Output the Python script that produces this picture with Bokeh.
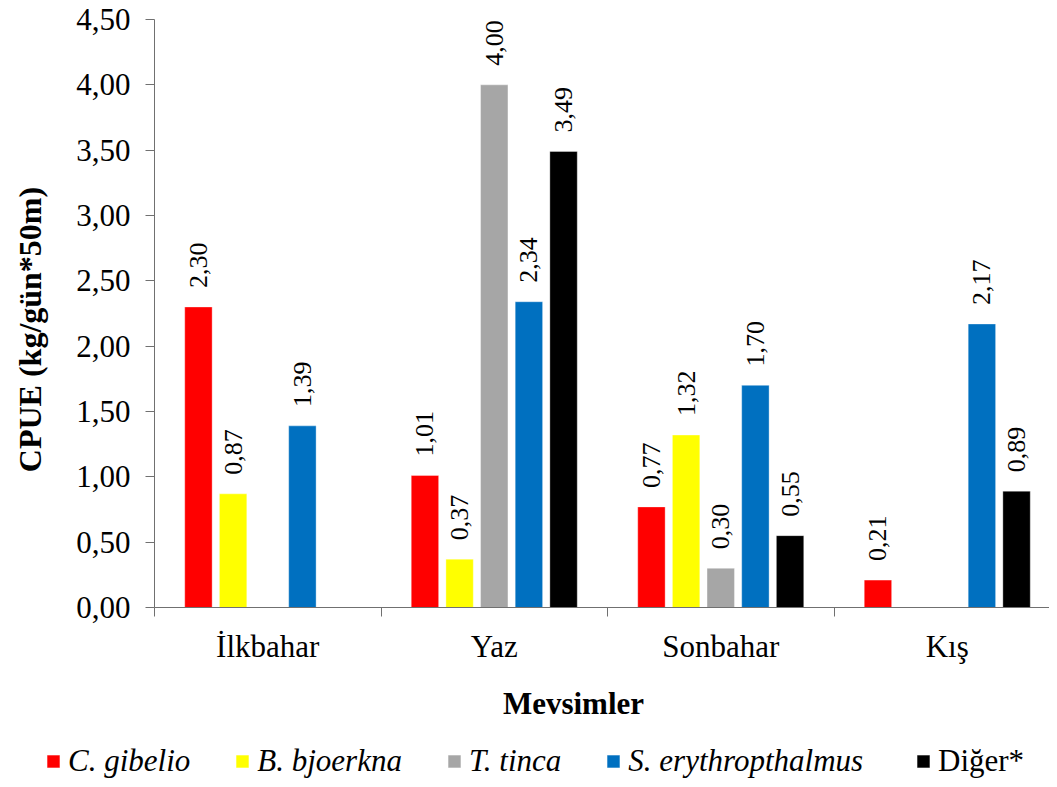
import math
from bokeh.plotting import figure
from bokeh.models import (ColumnDataSource, Range1d, FixedTicker, LabelSet, Label,
                          Legend, LegendItem)
from bokeh.core.properties import value
from bokeh.embed import file_html
from bokeh.resources import INLINE

# ---- data ----
categories = ["İlkbahar", "Yaz", "Sonbahar", "Kış"]
series_names = ["C. gibelio", "B. bjoerkna", "T. tinca", "S. erythropthalmus", "Diğer*"]
series_colors = ["#FF0000", "#FFFF00", "#A6A6A6", "#0070C0", "#000000"]
c_gibelio = [2.30, 1.01, 0.77, 0.21]
b_bjoerkna = [0.87, 0.37, 1.32, None]
t_tinca = [None, 4.00, 0.30, None]
s_erythropthalmus = [1.39, 2.34, 1.70, 2.17]
diger = [None, 3.49, 0.55, 0.89]
y_ticks = [0.0, 0.5, 1.0, 1.5, 2.0, 2.5, 3.0, 3.5, 4.0, 4.5]
y_tick_labels = ["0,00", "0,50", "1,00", "1,50", "2,00", "2,50", "3,00", "3,50", "4,00", "4,50"]
y_title = "CPUE (kg/gün*50m)"
x_title = "Mevsimler"

series_values = [c_gibelio, b_bjoerkna, t_tinca, s_erythropthalmus, diger]

FONT = "Liberation Serif"
offsets = [-0.306, -0.153, 0.0, 0.153, 0.306]
bar_w = 0.121

W, H = 1049, 779
# pixel geometry of plot area (axis origin at x=154, y=607; 4.5 at y=19)
PX_X = 226.5
PX_Y = (607 - 19) / 4.5
x_start = -154 / PX_X
x_end = (W - 154) / PX_X
y_end = 4.5 + 19 / PX_Y
y_start = -(H - 607) / PX_Y

p = figure(width=W, height=H, output_backend="svg", toolbar_location=None,
           x_range=Range1d(x_start, x_end), y_range=Range1d(y_start, y_end),
           min_border=0)
p.outline_line_color = None
p.xgrid.visible = False
p.ygrid.visible = False
p.background_fill_color = "white"
p.border_fill_color = "white"

renderers = []
for vals, col, off in zip(series_values, series_colors, offsets):
    xs, tops, txt = [], [], []
    for i, v in enumerate(vals):
        if v is None:
            continue
        xs.append(i + 0.5 + off)
        tops.append(v)
        txt.append(f"{v:.2f}".replace(".", ","))
    src = ColumnDataSource(dict(x=xs, top=tops, txt=txt))
    r = p.vbar(x="x", top="top", bottom=0, width=bar_w, source=src,
               fill_color=col, line_color="white", line_alpha=0.35, line_width=1)
    renderers.append(r)
    ls = LabelSet(x="x", y="top", text="txt", source=src, angle=math.pi / 2,
                  text_align="left", text_baseline="middle", y_offset=19,
                  text_font=value(FONT), text_font_size=value("26px"),
                  text_color="black")
    p.add_layout(ls)

# axes
AX = "#707070"
xa = p.xaxis[0]
xa.fixed_location = 0
xa.bounds = (0, x_end)
xa.ticker = FixedTicker(ticks=[0.5, 1.5, 2.5, 3.5], minor_ticks=[0, 1, 2, 3, 4])
xa.major_label_overrides = {i + 0.5: c for i, c in enumerate(categories)}
xa.major_tick_out = 0
xa.major_tick_in = 0
xa.minor_tick_out = 9
xa.minor_tick_in = 0
xa.minor_tick_line_color = AX
xa.axis_line_color = AX
xa.major_label_text_font = FONT
xa.major_label_text_font_size = "31px"
xa.major_label_text_color = "black"
xa.major_label_standoff = 12

ya = p.yaxis[0]
ya.fixed_location = 0
ya.bounds = (0, 4.5)
ya.ticker = FixedTicker(ticks=y_ticks, minor_ticks=[])
ya.major_label_overrides = {t: l for t, l in zip(y_ticks, y_tick_labels)}
ya.major_tick_out = 9
ya.major_tick_in = 0
ya.major_tick_line_color = AX
ya.axis_line_color = AX
ya.major_label_text_font = FONT
ya.major_label_text_font_size = "31px"
ya.major_label_text_color = "black"
ya.major_label_standoff = 15

# axis titles
p.add_layout(Label(x=(573 - 154) / PX_X, y=-(703 - 607) / PX_Y, text=x_title,
                   text_font=FONT, text_font_size="31px",
                   text_font_style="bold", text_align="center", text_baseline="middle",
                   text_color="black"))
p.add_layout(Label(x=(29 - 154) / PX_X, y=(607 - 329) / PX_Y, text=y_title,
                   text_font=FONT, text_font_size="32px",
                   text_font_style="bold", text_align="center", text_baseline="middle",
                   angle=math.pi / 2, text_color="black"))

# legends
def make_legend(items, loc, style):
    return Legend(items=items, location=loc, orientation="horizontal",
                  label_text_font=FONT, label_text_font_size="31px",
                  label_text_font_style=style, label_text_color="black",
                  glyph_width=16, glyph_height=16, label_standoff=7, spacing=44,
                  padding=0, margin=0, border_line_color=None,
                  background_fill_alpha=0)

items1 = [LegendItem(label=n, renderers=[r]) for n, r in zip(series_names[:4], renderers[:4])]
items2 = [LegendItem(label=series_names[4], renderers=[renderers[4]])]
p.add_layout(make_legend(items1, (45, 0), "italic"), "center")
p.add_layout(make_legend(items2, (915, 0), "normal"), "center")

open("out.html", "w").write(file_html(p, INLINE))
